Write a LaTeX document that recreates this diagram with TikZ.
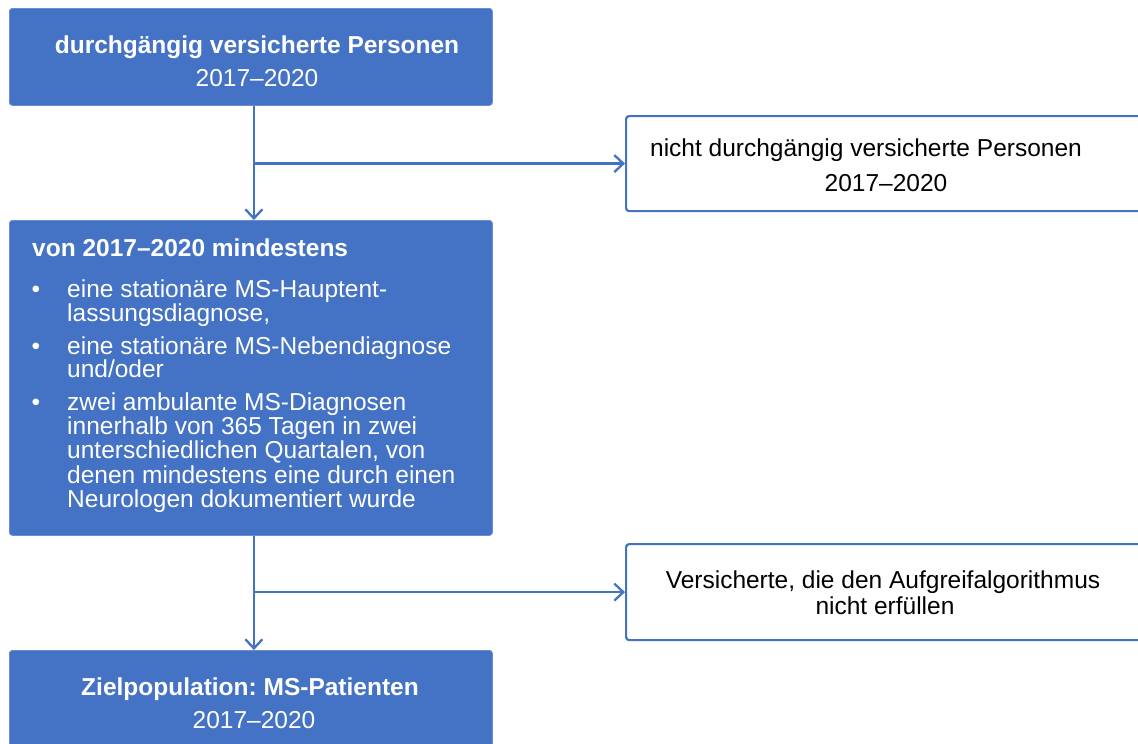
\documentclass[tikz,border=0pt]{standalone}
\usepackage{fontspec}
\setmainfont{Liberation Sans}
\usetikzlibrary{arrows.meta}
\definecolor{msblue}{HTML}{4472C4}
\frenchspacing
\begin{document}
\begin{tikzpicture}[x=1pt,y=-1pt,
  bluebox/.style={fill=msblue, draw=msblue!80!white, line width=0.8pt,
    rounded corners=3pt, inner sep=0pt, anchor=north west},
  whitebox/.style={fill=white, draw=msblue, line width=2.2pt,
    rounded corners=3pt, inner sep=0pt, anchor=north west},
  flow/.style={draw=msblue, line width=2.3pt,
    -{Straight Barb[length=9pt,width=17pt,line width=2.3pt]}},
  txt/.style={inner sep=0pt, anchor=base, font=\fontsize{24.5}{24.8}\selectfont},
  whitetxt/.style={txt, text=white},
  headtxt/.style={whitetxt, font=\fontsize{24.5}{24.8}\selectfont\bfseries},
  darktxt/.style={txt, text=black},
  itemtxt/.style={whitetxt, anchor=base west},
  bullettxt/.style={whitetxt, anchor=base}
]
\clip (0,0) rectangle (1138,744);
\fill[white] (0,0) rectangle (1138,744);

% boxes of the selection flow
\node[bluebox, minimum width=483pt, minimum height=97pt] (start) at (9,8) {};
\node[whitebox, minimum width=540pt, minimum height=95pt] (excl1) at (625,115) {};
\node[bluebox, minimum width=483pt, minimum height=315pt] (crit) at (9,220) {};
\node[whitebox, minimum width=540pt, minimum height=96pt] (excl2) at (625,543) {};
\node[bluebox, minimum width=483pt, minimum height=110pt] (target) at (9,650) {};

% connectors
\coordinate (j1) at ([xshift=3pt]start.south);
\coordinate (j2) at ([xshift=3pt]crit.south);
\draw[flow] (j1) -- (j1 |- crit.north);
\draw[flow] (j1 |- excl1.west) -- (excl1.west);
\draw[flow] (j2) -- (j2 |- target.north);
\draw[flow] (j2 |- excl2.west) -- (excl2.west);

% texts
\node[headtxt] (startA) at (257,53) {durchgängig versicherte Personen};
\node[whitetxt] (startB) at (257,86) {2017–2020};

\node[darktxt] (excl1A) at (866,156) {nicht durchgängig versicherte Personen};
\node[darktxt] (excl1B) at (886,191) {2017–2020};

\node[headtxt, anchor=base west] (critH) at (32,256) {von 2017–2020 mindestens};
\node[bullettxt] (b1) at (36,297) {\textbullet};
\node[itemtxt] (i1a) at (67,297) {eine stationäre MS-Hauptent-};
\node[itemtxt] (i1b) at (67,321) {lassungsdiagnose,};
\node[bullettxt] (b2) at (36,354) {\textbullet};
\node[itemtxt] (i2a) at (67,354) {eine stationäre MS-Nebendiagnose};
\node[itemtxt] (i2b) at (67,377) {und/oder};
\node[bullettxt] (b3) at (36,410) {\textbullet};
\node[itemtxt] (i3a) at (67,410) {zwei ambulante MS-Diagnosen};
\node[itemtxt] (i3b) at (67,434) {innerhalb von 365 Tagen in zwei};
\node[itemtxt] (i3c) at (67,458) {unterschiedlichen Quartalen, von};
\node[itemtxt] (i3d) at (67,483) {denen mindestens eine durch einen};
\node[itemtxt] (i3e) at (67,507) {Neurologen dokumentiert wurde};

\node[darktxt] (excl2A) at (883,588) {Versicherte, die den Aufgreifalgorithmus};
\node[darktxt] (excl2B) at (885,614) {nicht erfüllen};

\node[headtxt] (targetA) at (250,695) {Zielpopulation: MS-Patienten};
\node[whitetxt] (targetB) at (254,728) {2017–2020};
\end{tikzpicture}
\end{document}
